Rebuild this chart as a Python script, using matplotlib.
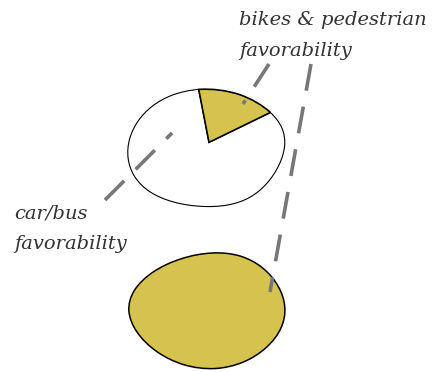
import matplotlib
matplotlib.use("Agg")
import numpy as np
import matplotlib.pyplot as plt
from matplotlib.transforms import Transform

# Shares of favorability
labels = ["bikes & pedestrian\nfavorability", "car/bus\nfavorability"]
top_values = [16, 84]
bottom_values = [100]

yellow = "#d6c24f"
dash_grey = "#777777"

W, H = 437, 372
fig = plt.figure(figsize=(W / 100, H / 100), dpi=100)


class Wobble(Transform):
    """Smooth hand-drawn warp applied to a whole pie, so wedges stay joined."""
    input_dims = output_dims = 2

    def __init__(self, phase, amp=1.0):
        super().__init__()
        self.phase = phase
        self.amp = amp

    def transform_non_affine(self, xy):
        xy = np.asarray(xy, dtype=float)
        x, y = xy[:, 0], xy[:, 1]
        p, a = self.phase, self.amp
        dx = a * (0.05 * np.sin(2.3 * y + p) + 0.03 * np.sin(3.1 * x + 2 * p))
        dy = a * (0.06 * np.sin(1.9 * x + 1.7 + p) + 0.05 * np.cos(2.6 * y + 0.4 * p) - 0.06)
        return np.column_stack([x + dx, y + dy])


def px_axes(x0, y0, x1, y1):
    return fig.add_axes([x0 / W, 1 - y1 / H, (x1 - x0) / W, (y1 - y0) / H])


def draw_pie(ax, values, colors, start, edge_w, phase, amp):
    wedges, _ = ax.pie(values, colors=colors, startangle=start, radius=1,
                       wedgeprops=dict(edgecolor="black", linewidth=edge_w))
    warp = Wobble(phase, amp) + ax.transData
    for w in wedges:
        w.set_transform(warp)
    ax.set_aspect("auto")
    ax.set_xlim(-1.02, 1.02)
    ax.set_ylim(-1.02, 1.02)
    ax.axis("off")
    return wedges


ax_top = px_axes(127, 85, 286, 205)
w_top = draw_pie(ax_top, top_values, [yellow, "white"], 40, 0.8, 0.3, 1.0)
w_top[0].set_zorder(3)
w_top[0].set_linewidth(1.2)

ax_bot = px_axes(131, 247, 290, 367)
draw_pie(ax_bot, bottom_values, [yellow], 90, 1.1, 4.0, 0.7)

# Overlay in pixel coordinates for labels and leader lines
ov = fig.add_axes([0, 0, 1, 1])
ov.set_xlim(0, W)
ov.set_ylim(H, 0)
ov.axis("off")
ov.patch.set_alpha(0)

font = dict(family="DejaVu Serif", style="italic", fontsize=14,
            color="#333333", linespacing=1.9)
ov.text(239, 11, labels[0], ha="left", va="top", **font)
ov.text(14, 204, labels[1], ha="left", va="top", **font)

line_kw = dict(color=dash_grey, linewidth=2.6, dashes=(7.5, 4.5), solid_capstyle="butt")
ov.plot([105, 172], [200, 133], **line_kw)
ov.plot([269, 243], [64, 104], **line_kw)
ov.plot([311, 270], [64, 292], **line_kw)

fig.savefig("out.png", dpi=100)
